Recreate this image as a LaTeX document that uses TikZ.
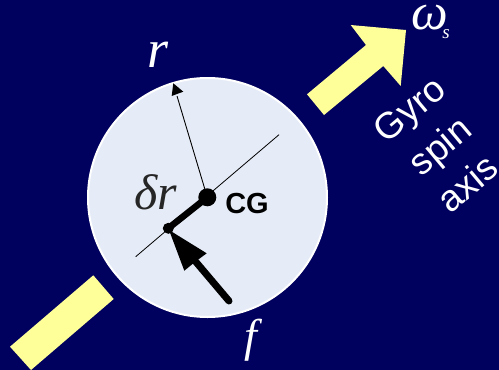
\documentclass[tikz,border=0pt]{standalone}
\usepackage{fontspec}
\setmainfont{Liberation Serif}
\setsansfont{Liberation Sans}
\definecolor{bg}{HTML}{00005E}
\definecolor{disc}{HTML}{E6ECF7}
\definecolor{bar}{HTML}{FFFF99}
\tikzset{
 mathtxt/.style={inner sep=0pt,font=\fontsize{54}{54}\selectfont\itshape},
 gyrotxt/.style={inner sep=0pt,text=white,rotate=40,font=\sffamily\fontsize{37}{37}\selectfont},
 pt/.style={circle,fill=black,inner sep=0pt},
}
\begin{document}
\begin{tikzpicture}[x=1pt,y=-1pt]
\useasboundingbox (0,0) rectangle (499,370);
\fill[bg] (0,0) rectangle (499,370);
\node[circle,draw=white,line width=2pt,fill=disc,minimum size=239pt,inner sep=0pt] (disc) at (207.5,197.5) {};
\fill[bar] (307,94.3) -- (324,115) -- (383.3,66) -- (400.7,86) -- (406,30) -- (350.7,25) -- (366,45) -- cycle;
\fill[bar] (93.3,275.3) -- (113.7,299) -- (31,370) -- (10,346.7) -- cycle;
\coordinate (ax1) at (279,134.7);
\coordinate (ax2) at (135.7,256.7);
\draw[line width=0.8pt] (ax1) -- (ax2);
\node[pt,minimum size=18pt] (cg) at (207.3,197.3) {};
\node[pt,minimum size=11pt] (p) at (168.3,228.3) {};
\draw[line width=6.5pt] (cg.center) -- (p.center);
\coordinate (rt) at (173.3,83.3);
\draw[line width=0.9pt] (cg.center) -- (177,96);
\fill (rt) -- (183.3,91.7) -- (177,94) -- (171.7,96) -- cycle;
\coordinate (ftail) at (229,301);
\draw[line width=7pt,line cap=round] (ftail) -- (196,262);
\fill (169,230) -- (206.7,253.3) -- (195,262) -- (184.3,270.7) -- cycle;
\node[mathtxt,text=white] (r) at (158,55) {r};
\node[inner sep=0pt,font=\fontsize{50}{50}\selectfont\itshape,text=black!85] (dr) at (156,192) {δr};
\node[inner sep=0pt,font=\fontsize{46}{46}\selectfont\itshape,text=white] (f) at (251,340) {f};
\node[inner sep=0pt,font=\sffamily\bfseries\fontsize{29}{29}\selectfont] (cgl) at (247,204) {CG};
\node[inner sep=0pt,text=white,font=\fontsize{52}{52}\selectfont\itshape] (om) at (430,18) {ω};
\node[inner sep=0pt,text=white,font=\fontsize{19}{19}\selectfont\itshape] (s) at (446,34) {s};
\node[gyrotxt] (g1) at (411.7,111.7) {Gyro};
\node[gyrotxt] (g2) at (441.7,148) {spin};
\node[gyrotxt] (g3) at (467,183) {axis};
\end{tikzpicture}
\end{document}
